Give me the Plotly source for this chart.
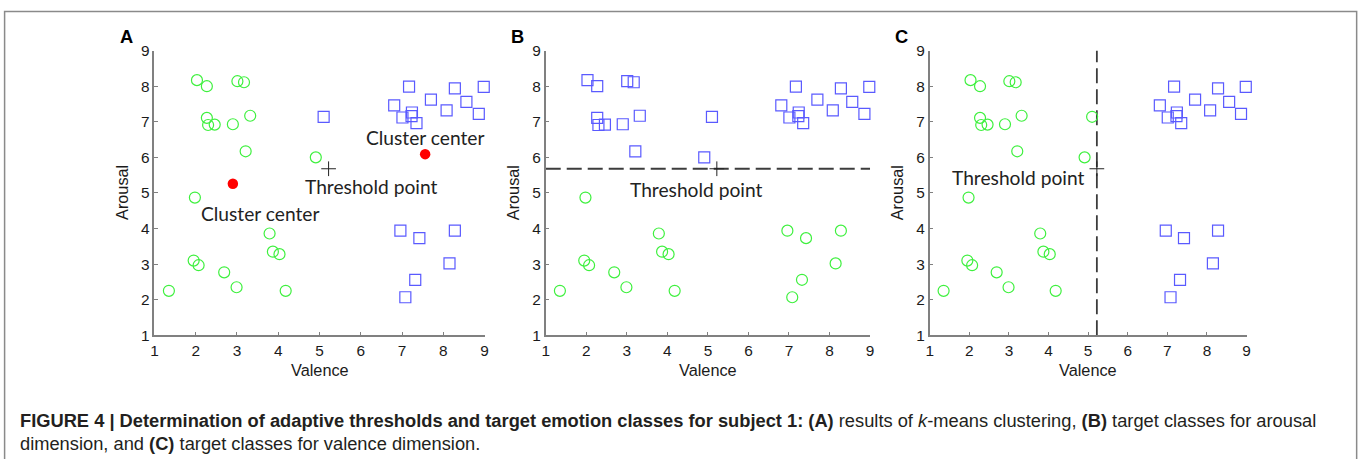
import plotly.graph_objects as go

# ---------------- data ----------------
valence = [2.03, 2.27, 3.01, 3.17, 2.27, 2.30, 2.46, 2.90, 3.32, 3.21, 4.91,
           1.98, 1.35, 1.95, 2.07, 2.69, 2.99, 3.79, 3.87, 4.03, 4.18,
           5.10, 6.81, 7.17, 7.01, 7.24, 7.23, 7.35, 7.70, 8.08, 8.28,
           8.56, 8.86, 8.98, 6.96, 7.42, 8.28, 8.15, 7.32, 7.08]
arousal = [8.17, 8.00, 8.14, 8.11, 7.11, 6.91, 6.92, 6.93, 7.17, 6.17, 6.00,
           4.87, 2.25, 3.10, 2.97, 2.77, 2.35, 3.86, 3.35, 3.28, 2.25,
           7.14, 7.46, 7.99, 7.12, 7.26, 7.16, 6.96, 7.62, 7.32, 7.94,
           7.56, 7.22, 7.98, 3.94, 3.73, 3.94, 3.02, 2.56, 2.07]
kmeans_cluster = [1] * 21 + [2] * 19
center_valence = [2.90, 7.56]
center_arousal = [5.26, 6.09]
threshold_valence = 5.22
threshold_arousal = 5.68
tick_values = [1, 2, 3, 4, 5, 6, 7, 8, 9]
axis_range = [1, 9]
panel_labels = ["A", "B", "C"]

# ---------------- layout geometry ----------------
W, H = 1362, 459
# the captured page includes the 8px body margin, so window pixels are
# mapped back into figure pixels before being turned into paper fractions
CAP_W, CAP_H, MARGIN_X, MARGIN_Y = 1378.0, 477.0, 8.0, 9.8

def px(X):
    return (X * CAP_W / W - MARGIN_X) / W

def py(Y):
    return 1 - (Y * CAP_H / H - MARGIN_Y) / H

panels_px = [(157.5, 485.7), (546.5, 869.0), (928.3, 1243.3)]
y_top, y_bot = 51.0, 335.5

GREEN = "#3ef03e"
BLUE = "#5a5aff"
AXIS_GREY = "#808080"
TXT = "#1a1a1a"

fig = go.Figure()

def ax_names(i):
    s = "" if i == 0 else str(i + 1)
    return "x" + s, "y" + s, "xaxis" + s, "yaxis" + s

def add_group(i, xs, ys, kind):
    xr, yr, _, _ = ax_names(i)
    if kind == "low":
        marker = dict(symbol="circle-open", size=11, color=GREEN, line=dict(width=1.2, color=GREEN))
    else:
        marker = dict(symbol="square-open", size=11, color=BLUE, line=dict(width=1.2, color=BLUE))
    fig.add_trace(go.Scatter(x=xs, y=ys, mode="markers", marker=marker, xaxis=xr, yaxis=yr,
                             showlegend=False, cliponaxis=False, hoverinfo="skip"))

def add_threshold(i):
    xr, yr, _, _ = ax_names(i)
    fig.add_trace(go.Scatter(x=[threshold_valence], y=[threshold_arousal], mode="markers",
                             marker=dict(symbol="cross-thin-open", size=10.5, color="#222",
                                         line=dict(width=1, color="#222")),
                             xaxis=xr, yaxis=yr, showlegend=False, cliponaxis=False))

# Panel A: k-means clusters
low = [k == 1 for k in kmeans_cluster]
add_group(0, [v for v, m in zip(valence, low) if m], [a for a, m in zip(arousal, low) if m], "low")
add_group(0, [v for v, m in zip(valence, low) if not m], [a for a, m in zip(arousal, low) if not m], "high")
fig.add_trace(go.Scatter(x=center_valence, y=center_arousal, mode="markers",
                         marker=dict(symbol="circle", size=10.5, color="#ff0000"),
                         xaxis="x", yaxis="y", showlegend=False))
add_threshold(0)

# Panel B: arousal classes
fig.add_trace(go.Scatter(x=axis_range, y=[threshold_arousal] * 2, mode="lines",
                         line=dict(color="#3c3c3c", width=1.8, dash="15px,6px"),
                         xaxis="x2", yaxis="y2", showlegend=False))
lowB = [a < threshold_arousal for a in arousal]
add_group(1, [v for v, m in zip(valence, lowB) if m], [a for a, m in zip(arousal, lowB) if m], "low")
add_group(1, [v for v, m in zip(valence, lowB) if not m], [a for a, m in zip(arousal, lowB) if not m], "high")
add_threshold(1)

# Panel C: valence classes
fig.add_trace(go.Scatter(x=[threshold_valence] * 2, y=axis_range, mode="lines",
                         line=dict(color="#3c3c3c", width=1.8, dash="15px,6px"),
                         xaxis="x3", yaxis="y3", showlegend=False))
lowC = [v < threshold_valence for v in valence]
add_group(2, [v for v, m in zip(valence, lowC) if m], [a for a, m in zip(arousal, lowC) if m], "low")
add_group(2, [v for v, m in zip(valence, lowC) if not m], [a for a, m in zip(arousal, lowC) if not m], "high")
add_threshold(2)

tickfont = dict(family="Liberation Sans, Arial, sans-serif", size=15.4, color=TXT)
layout = {}
annotations = []
for i, (x0, x1) in enumerate(panels_px):
    xr, yr, xn, yn = ax_names(i)
    common = dict(range=axis_range, tickvals=tick_values, showgrid=False, zeroline=False,
                  showline=True, linecolor=AXIS_GREY, linewidth=1.5, ticks="inside",
                  ticklen=4, tickwidth=1, tickcolor=AXIS_GREY, tickfont=tickfont, mirror=False)
    layout[xn] = dict(domain=[px(x0), px(x1)], anchor=yr, **common)
    layout[yn] = dict(domain=[py(y_bot), py(y_top)], anchor=xr, **common)
    # axis titles
    annotations.append(dict(text="Valence", x=px((x0 + x1) / 2), y=py(370), xref="paper", yref="paper",
                            xanchor="center", yanchor="middle", showarrow=False,
                            font=dict(family="Liberation Sans, Arial", size=16.3, color=TXT)))
    annotations.append(dict(text="Arousal", x=px(x0 - 33), y=py(193), xref="paper", yref="paper",
                            xanchor="center", yanchor="middle", textangle=-90, showarrow=False,
                            font=dict(family="Liberation Sans, Arial", size=16.3, color=TXT)))
    # panel letter
    annotations.append(dict(text="<b>%s</b>" % panel_labels[i], x=px(x0 - 28), y=py(37),
                            xref="paper", yref="paper", xanchor="center", yanchor="middle",
                            showarrow=False,
                            font=dict(family="Liberation Sans, Arial", size=18.3, color="#000")))

note_font = dict(family="Lato, Open Sans, sans-serif", size=19.2, color="#222")
annotations += [
    dict(text="Cluster center", x=3.55, y=4.41, xref="x", yref="y", showarrow=False, font=note_font,
         xanchor="center", yanchor="middle"),
    dict(text="Cluster center", x=7.56, y=6.55, xref="x", yref="y", showarrow=False, font=note_font,
         xanchor="center", yanchor="middle"),
    dict(text="Threshold point", x=6.25, y=5.17, xref="x", yref="y", showarrow=False, font=note_font,
         xanchor="center", yanchor="middle"),
    dict(text="Threshold point", x=4.70, y=5.10, xref="x2", yref="y2", showarrow=False, font=note_font,
         xanchor="center", yanchor="middle"),
    dict(text="Threshold point", x=3.22, y=5.44, xref="x3", yref="y3", showarrow=False, font=note_font,
         xanchor="center", yanchor="middle"),
]

cap_font = dict(family="Liberation Sans, Arial, sans-serif", size=18.3, color="#231f20")
annotations += [
    dict(text="<b>FIGURE 4 | Determination of adaptive thresholds and target emotion classes for subject 1: (A)</b> "
              "results of <i>k</i>-means clustering, <b>(B)</b> target classes for arousal",
         x=px(22), y=py(421), xref="paper", yref="paper", xanchor="left", yanchor="middle",
         showarrow=False, font=cap_font),
    dict(text="dimension, and <b>(C)</b> target classes for valence dimension.",
         x=px(22), y=py(444), xref="paper", yref="paper", xanchor="left", yanchor="middle",
         showarrow=False, font=cap_font),
]

layout["annotations"] = annotations
layout["shapes"] = [dict(type="rect", xref="paper", yref="paper", x0=px(8.5), x1=min(px(1355.5), 0.999),
                         y0=-0.2, y1=py(12), line=dict(color="#8a8a8a", width=1.5))]
fig.update_layout(width=W, height=H, margin=dict(l=0, r=0, t=0, b=0),
                  paper_bgcolor="white", plot_bgcolor="white", **layout)

fig.write_html("out.html")
